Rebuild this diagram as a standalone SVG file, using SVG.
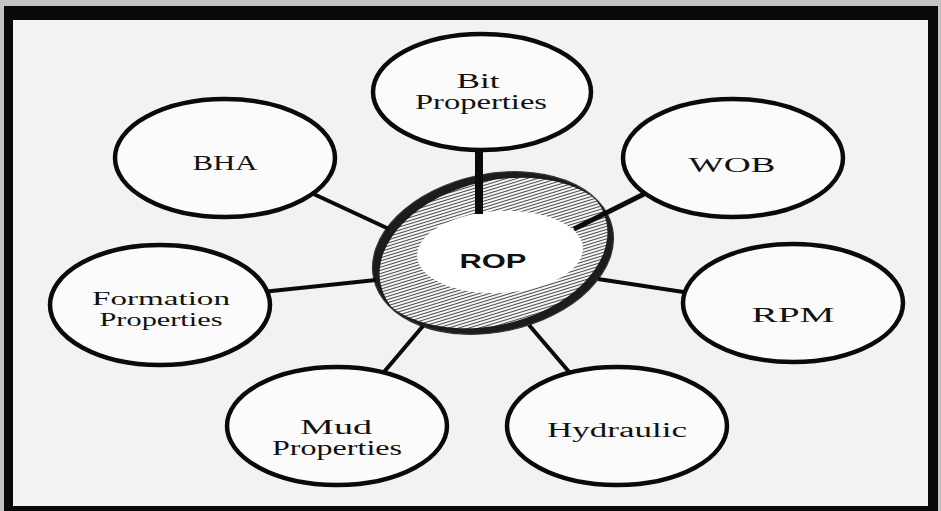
<svg xmlns="http://www.w3.org/2000/svg" width="941" height="511" viewBox="0 0 941 511">
<style>
.node ellipse{fill:#fbfbfb;stroke:#0a0a0a;stroke-width:4.5}
.lbl{font-family:"Liberation Serif","Times New Roman",serif;font-size:20px;fill:#111;text-anchor:middle}
.sm{font-size:19px}
.rop{font-family:"Liberation Sans",Arial,sans-serif;font-weight:bold;font-size:21px;fill:#111;text-anchor:middle}
.conn line{stroke:#0a0a0a;stroke-width:4;stroke-linecap:butt}
</style>
<defs>
<pattern id="hatch" width="4" height="3" patternUnits="userSpaceOnUse" patternTransform="rotate(-5)">
<rect width="4" height="3" fill="#f6f6f6"/>
<rect y="1" width="4" height="1" fill="#4a4a4a"/>
</pattern>
<clipPath id="outerClip"><ellipse cx="493" cy="253" rx="122" ry="79" transform="rotate(-12 493 253)"/></clipPath>
<clipPath id="shiftClip"><ellipse cx="487" cy="247" rx="122" ry="79" transform="rotate(-12 487 247)"/></clipPath>
</defs>
<rect width="941" height="511" fill="#c4c4c4"/>
<rect x="4" y="6" width="934" height="505" fill="#0a0a0a"/>
<rect x="13" y="20" width="915" height="486" fill="#f2f2f2"/>

<g id="ROP">
<g clip-path="url(#outerClip)">
<ellipse cx="493" cy="253" rx="122" ry="79" transform="rotate(-12 493 253)" fill="#1c1c1c"/>
<g clip-path="url(#shiftClip)">
<ellipse cx="500" cy="259" rx="122" ry="79" transform="rotate(-12 500 259)" fill="url(#hatch)"/>
</g>
</g>
<ellipse cx="493" cy="253" rx="122" ry="79" transform="rotate(-12 493 253)" fill="none" stroke="#333" stroke-width="1.2"/>
<ellipse cx="500" cy="252" rx="83" ry="41" transform="rotate(-3 500 252)" fill="#ffffff"/>
<text class="rop" x="493" y="268" textLength="67" lengthAdjust="spacingAndGlyphs">ROP</text>
</g>

<g id="connectors" class="conn">
<line x1="479" y1="140" x2="479" y2="214" style="stroke-width:8"/>
<line x1="305" y1="190" x2="389" y2="229"/>
<line x1="652" y1="190" x2="574" y2="229" style="stroke-width:5"/>
<line x1="262" y1="292" x2="376" y2="280"/>
<line x1="598" y1="279" x2="690" y2="293"/>
<line x1="378" y1="379" x2="423" y2="326"/>
<line x1="529" y1="325" x2="576" y2="380"/>
</g>

<g id="Bit" class="node">
<ellipse cx="482" cy="92" rx="109" ry="58"/>
<text class="lbl" x="478" y="88" textLength="43" lengthAdjust="spacingAndGlyphs">Bit</text>
<text class="lbl" x="481" y="109" textLength="132" lengthAdjust="spacingAndGlyphs">Properties</text>
</g>
<g id="BHA" class="node">
<ellipse cx="225" cy="158" rx="110" ry="59"/>
<text class="lbl" x="225" y="170" textLength="65" lengthAdjust="spacingAndGlyphs">BHA</text>
</g>
<g id="WOB" class="node">
<ellipse cx="733" cy="158" rx="110" ry="59"/>
<text class="lbl" x="732" y="172" textLength="87" lengthAdjust="spacingAndGlyphs">WOB</text>
</g>
<g id="Formation" class="node">
<ellipse cx="160" cy="305" rx="110" ry="60"/>
<text class="lbl sm" x="161" y="305" textLength="138" lengthAdjust="spacingAndGlyphs">Formation</text>
<text class="lbl sm" x="161" y="326" textLength="123" lengthAdjust="spacingAndGlyphs">Properties</text>
</g>
<g id="RPM" class="node">
<ellipse cx="793" cy="303" rx="110" ry="59"/>
<text class="lbl" x="793" y="322" textLength="83" lengthAdjust="spacingAndGlyphs">RPM</text>
</g>
<g id="Mud" class="node">
<ellipse cx="337" cy="426" rx="110" ry="59"/>
<text class="lbl" x="336" y="434" textLength="72" lengthAdjust="spacingAndGlyphs">Mud</text>
<text class="lbl" x="337" y="455" textLength="130" lengthAdjust="spacingAndGlyphs">Properties</text>
</g>
<g id="Hydraulic" class="node">
<ellipse cx="617" cy="426" rx="110" ry="59"/>
<text class="lbl" x="617" y="437" textLength="140" lengthAdjust="spacingAndGlyphs">Hydraulic</text>
</g>
</svg>
